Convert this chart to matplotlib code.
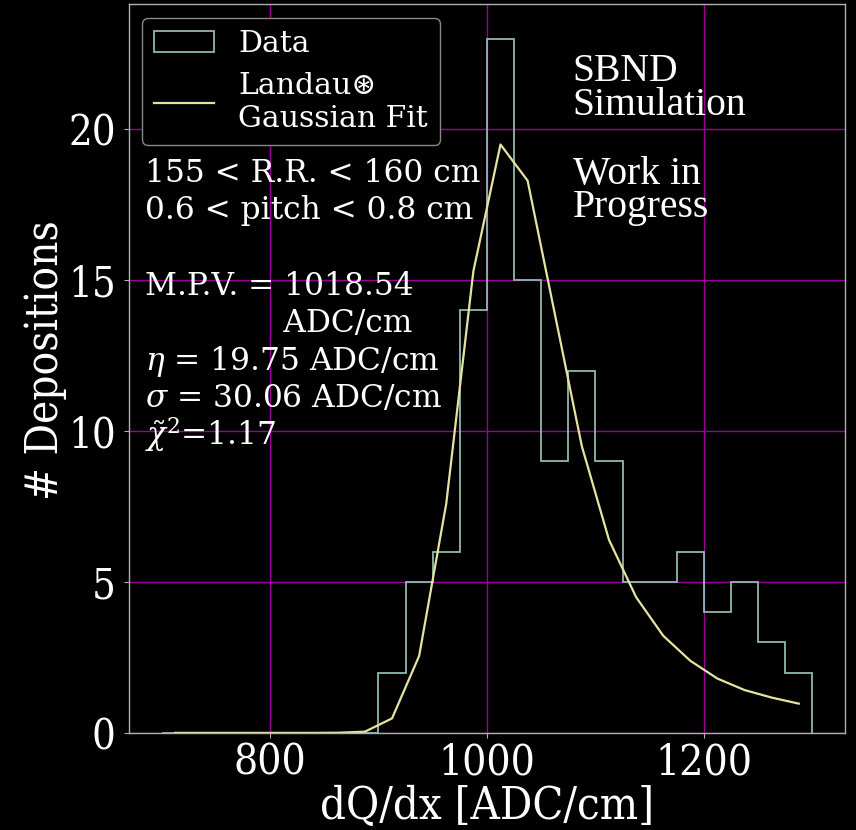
import glob, os
import numpy as np
import matplotlib
matplotlib.use("Agg")
import matplotlib.pyplot as plt
from matplotlib import font_manager

# ---- data ----
bin_edges = [700, 725, 750, 775, 800, 825, 850, 875, 900, 925, 950, 975, 1000,
             1025, 1050, 1075, 1100, 1125, 1150, 1175, 1200, 1225, 1250, 1275, 1300]
counts = [0, 0, 0, 0, 0, 0, 0, 0, 2, 5, 6, 14, 23, 15, 9, 12, 9, 5, 5, 6, 4, 5, 3, 2]
fit_x = [712.5, 737.5, 762.5, 787.5, 812.5, 837.5, 862.5, 887.5, 912.5, 937.5,
         962.5, 987.5, 1012.5, 1037.5, 1062.5, 1087.5, 1112.5, 1137.5, 1162.5,
         1187.5, 1212.5, 1237.5, 1262.5, 1287.5]
fit_y = [0.0, 0.0, 0.0, 0.0, 0.0, 0.0, 0.005, 0.04, 0.48, 2.55, 7.6, 15.3, 19.5,
         18.3, 13.9, 9.5, 6.4, 4.5, 3.22, 2.39, 1.8, 1.42, 1.17, 0.97]
x_ticks = [800, 1000, 1200]
y_ticks = [0, 5, 10, 15, 20]
stat_lines = ["155 < R.R. < 160 cm", "0.6 < pitch < 0.8 cm", "",
              "M.P.V. = 1018.54", "              ADC/cm",
              "$\\eta$ = 19.75 ADC/cm", "$\\sigma$ = 30.06 ADC/cm",
              "$\\tilde{\\chi}^2$=1.17"]

plt.rcParams['font.family'] = ['DejaVu Serif', 'DejaVu Sans']
plt.rcParams['mathtext.fontset'] = 'dejavuserif'


def find_font(candidates):
    roots = ['/usr/share/fonts', '/usr/local/share/fonts', os.path.expanduser('~/.fonts'),
             os.path.join(matplotlib.get_data_path(), 'fonts')]
    for c in candidates:
        for r in roots:
            hits = glob.glob(os.path.join(r, '**', c), recursive=True)
            if hits:
                return hits[0]
    return None


times_path = find_font(['LiberationSerif-Regular.ttf', 'Tinos-Regular.ttf',
                        'FreeSerif.ttf', 'NimbusRoman-Regular*'])
cond_path = find_font(['DejaVuSerifCondensed.ttf'])


def fp(path, size, fallback='DejaVu Serif'):
    if path:
        return font_manager.FontProperties(fname=path, size=size)
    return font_manager.FontProperties(family=fallback, size=size)


fig = plt.figure(figsize=(8.56, 8.30), dpi=100, facecolor='black')
ax = fig.add_axes([0.1507, 0.117, 0.8363, 0.878])
ax.set_facecolor('black')

centers = np.array(bin_edges[:-1]) + 12.5
ax.hist(centers, bins=bin_edges, weights=counts, histtype='step',
        color='#8fb9ad', linewidth=1.3, label='Data')
ax.plot(fit_x, fit_y, color='#e6e3a0', linewidth=1.6,
        label='Landau\u229b\nGaussian Fit')

ax.set_xticks(x_ticks)
ax.set_yticks(y_ticks)
ax.grid(True, color='#9a009a', linewidth=1.0)
ax.set_axisbelow(True)
for s in ax.spines.values():
    s.set_color('#b0b0b0')
    s.set_linewidth(1.0)
ax.tick_params(colors='#b0b0b0', labelcolor='white', pad=6)
ax.tick_params(axis='x', pad=3)
for lab in ax.get_xticklabels():
    lab.set_fontproperties(fp(cond_path, 30.5))
for lab in ax.get_yticklabels():
    lab.set_fontproperties(fp(cond_path, 30))
ax.set_xlabel('dQ/dx [ADC/cm]', color='white', fontproperties=fp(cond_path, 32.5))
ax.set_ylabel('# Depositions', color='white', fontproperties=fp(cond_path, 31.5))
ax.xaxis.set_label_coords(0.5, -0.071)
ax.yaxis.set_label_coords(-0.086, 0.512)

leg = ax.legend(loc='upper left', fontsize=21.5, facecolor='black',
                edgecolor='#888888', framealpha=1.0, labelcolor='white',
                borderaxespad=0.45)

# stats block, one line per baseline
H = 729.0  # axes height in px
base0 = 181.7
step = 37.6
for i, line in enumerate(stat_lines):
    if not line:
        continue
    ypx = base0 + step * i
    ax.text(0.022, (733 - ypx) / H, line, transform=ax.transAxes, color='white',
            fontsize=22.5, va='baseline', ha='left')

times_fp = fp(times_path, 28.5, fallback='serif')
ax.text(0.62, 0.933, "SBND\nSimulation", transform=ax.transAxes, color='white',
        fontproperties=times_fp, va='top', ha='left', linespacing=0.88)
ax.text(0.62, 0.792, "Work in\nProgress", transform=ax.transAxes, color='white',
        fontproperties=times_fp, va='top', ha='left', linespacing=0.88)

fig.savefig('out.png', dpi=100, facecolor='black')
